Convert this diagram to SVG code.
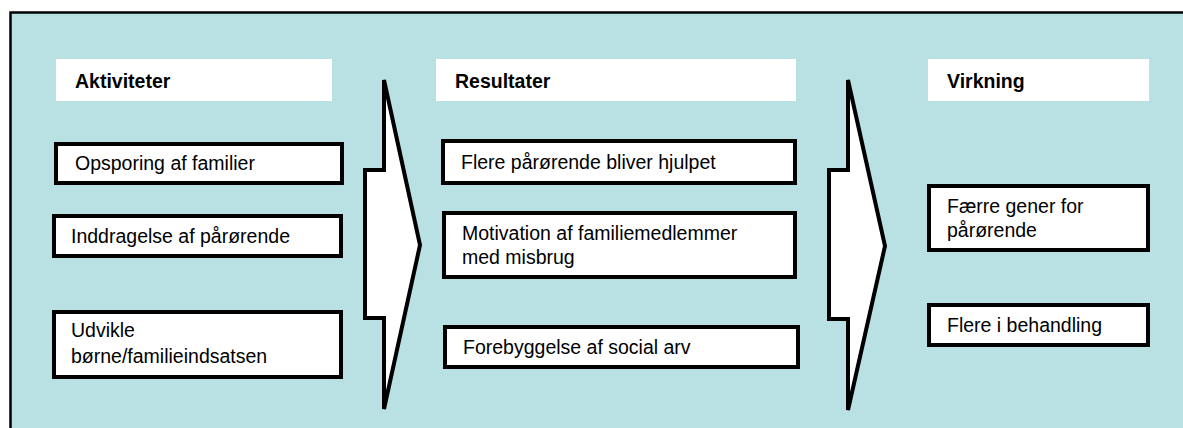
<svg xmlns="http://www.w3.org/2000/svg" width="1183" height="428" viewBox="0 0 1183 428">
<style>
.hdr{fill:#ffffff;stroke:none}
.box{fill:#ffffff;stroke:#000000;stroke-width:4}
.arrow{fill:#ffffff;stroke:#000000;stroke-width:4}
.ht{font-family:"Liberation Sans",Arial,sans-serif;font-size:19.5px;font-weight:bold;fill:#000000}
.t{font-family:"Liberation Sans",Arial,sans-serif;font-size:19.5px;fill:#000000}
</style>
<rect x="0" y="0" width="1183" height="428" fill="#ffffff"/>
<rect id="frame" x="10.5" y="12.5" width="1200" height="450" fill="#b9e0e3" stroke="#000000" stroke-width="2.5"/>
<g id="connectors">
<path class="arrow" d="M384,80 L420,245 L384,409 L384,318 L365,318 L365,170 L384,170 Z"/>
<path class="arrow" d="M848,80 L885,246 L848,410 L848,319 L829,319 L829,170 L848,170 Z"/>
</g>
<g id="hdr-aktiviteter"><rect class="hdr" x="56" y="59" width="276" height="42"/><text class="ht" x="75" y="88">Aktiviteter</text></g>
<g id="hdr-resultater"><rect class="hdr" x="436" y="59" width="360" height="42"/><text class="ht" x="455" y="88">Resultater</text></g>
<g id="hdr-virkning"><rect class="hdr" x="928" y="59" width="221" height="42"/><text class="ht" x="947" y="88">Virkning</text></g>
<g id="n-opsporing"><rect class="box" x="56" y="144" width="286" height="39"/><text class="t" x="75" y="170">Opsporing af familier</text></g>
<g id="n-inddragelse"><rect class="box" x="54" y="216" width="287" height="40"/><text class="t" x="71" y="243">Inddragelse af pårørende</text></g>
<g id="n-udvikle"><rect class="box" x="54" y="312" width="287" height="65"/><text class="t" x="71" y="337">Udvikle</text><text class="t" x="71" y="363">børne/familieindsatsen</text></g>
<g id="n-flere-paarorende"><rect class="box" x="443" y="141" width="352" height="42"/><text class="t" x="461" y="169">Flere pårørende bliver hjulpet</text></g>
<g id="n-motivation"><rect class="box" x="444" y="213" width="351" height="64"/><text class="t" x="462" y="240">Motivation af familiemedlemmer</text><text class="t" x="462" y="264">med misbrug</text></g>
<g id="n-forebyggelse"><rect class="box" x="445" y="327" width="353" height="40"/><text class="t" x="463" y="354">Forebyggelse af social arv</text></g>
<g id="n-faerre"><rect class="box" x="929" y="186" width="219" height="64"/><text class="t" x="947" y="213">Færre gener for</text><text class="t" x="947" y="237">pårørende</text></g>
<g id="n-behandling"><rect class="box" x="929" y="305" width="219" height="40"/><text class="t" x="947" y="332">Flere i behandling</text></g>
</svg>
